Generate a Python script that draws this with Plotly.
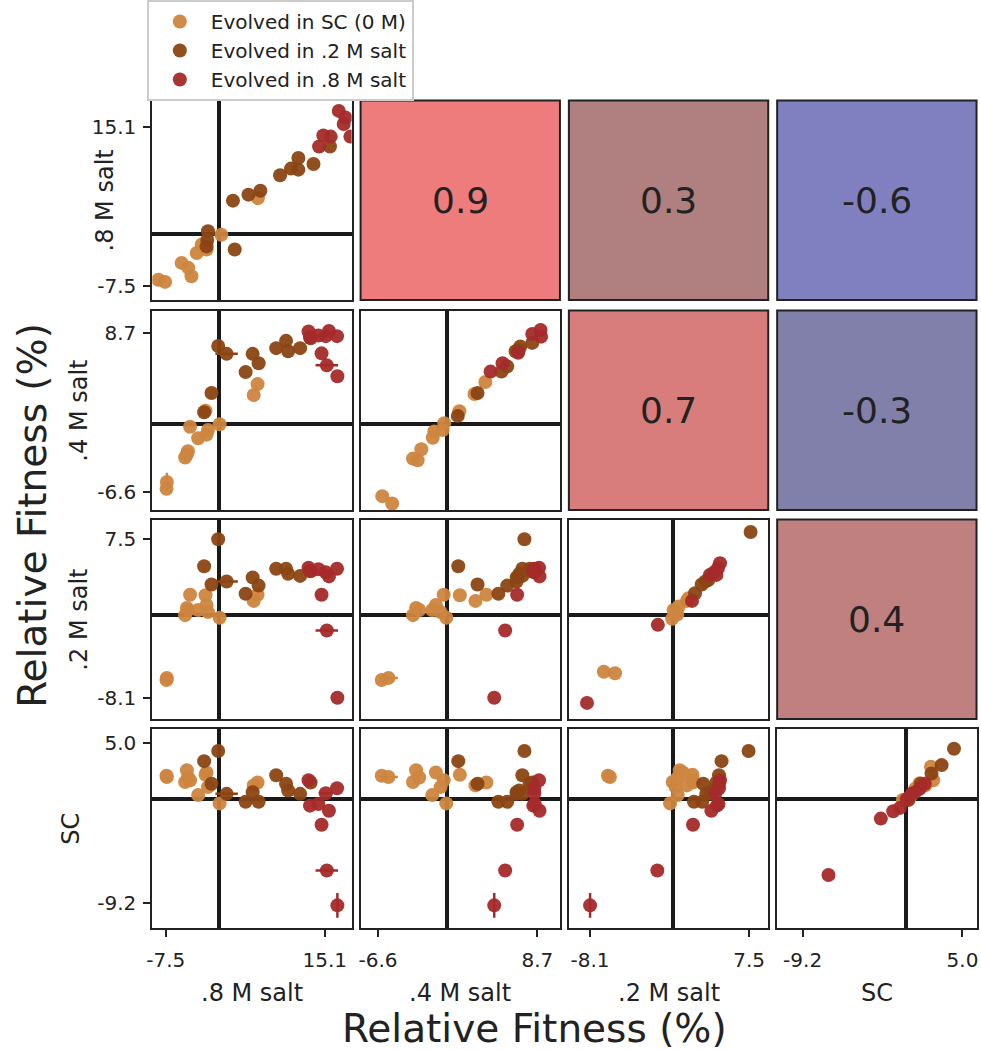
import plotly.graph_objects as go

# ---------------- data ----------------
GROUP_NAMES = ["Evolved in SC (0 M)", "Evolved in .2 M salt", "Evolved in .8 M salt"]
ENV_LABELS = [".8 M salt", ".4 M salt", ".2 M salt", "SC"]
ENV_TICKS = [[-7.5, 15.1], [-6.6, 8.7], [-8.1, 7.5], [-9.2, 5.0]]
ENV_TICKTEXT = [["-7.5", "15.1"], ["-6.6", "8.7"], ["-8.1", "7.5"], ["-9.2", "5.0"]]

# mean relative fitness (%) of each strain in each environment
# group: 0 = evolved in SC, 1 = evolved in .2 M, 2 = evolved in .8 M
strain_group = [0] * 13 + [1] * 12 + [2] * 9
fit_m8 = [-7.4, -7.35, -4.75, -4.5, -4.35, -4.05, -2.9, -1.7, -1.5, -1.85, 0.15, 5.55, 5.0,
          -2.05, -1.0, -0.05, 1.15, 3.85, 4.85, 5.7, 8.2, 9.6, 9.9, 11.6, 13.1,
          16.9, 15.4, 14.65, 12.8, 15.25, 16.85, 13.0, 14.2, 15.7]
fit_m4 = [-6.25, -5.6, -3.25, -2.95, -2.65, -0.3, -1.4, -1.05, -0.6, 1.25, -0.05, 3.8, 2.75,
          1.1, 2.95, 7.45, 6.7, 4.95, 6.7, 5.8, 7.25, 7.95, 6.95, 7.25, 8.2,
          4.55, 5.6, 6.75, 8.85, 8.4, 8.4, 8.3, 8.45, 8.9]
fit_m2 = [-6.35, -6.15, 0.0, 0.7, 0.5, 2.0, 0.5, 1.0, 0.3, 1.95, -0.25, 2.0, 1.4,
          4.8, 3.0, 7.45, 3.3, 2.1, 3.7, 2.9, 4.55, 4.55, 4.05, 3.85, 4.3,
          -8.1, -1.5, 2.0, 4.65, 4.2, 4.55, 4.35, 4.5, 3.8]
fit_sc = [2.05, 1.95, 1.5, 2.55, 1.9, 1.65, 0.35, 2.35, 1.05, 2.15, -0.4, 1.45, 1.2,
          3.35, 1.35, 4.25, 0.45, -0.25, 0.6, -0.25, 2.1, 1.35, 0.75, 0.45, 1.45,
          -9.45, -6.35, -2.3, 1.65, 0.5, 0.95, -0.6, -0.45, -1.05]
err_m8 = [0] * 16 + [1.6] + [0] * 7 + [0.9] + [0, 1.6, 0, 0, 1.0, 0, 0, 0, 0]
err_m4 = [0, 0.9] + [0] * 32
err_m2 = [0] * 34
err_sc = [0] * 25 + [1.1] + [0] * 8

# replicate panels on the diagonal (x = replicate 1, y = replicate 2)
diag_m8_g = [0] * 10 + [1] * 13 + [2] * 7
diag_m8_x = [-8.55, -7.6, -5.25, -4.3, -3.85, -3.1, -2.4, -1.7, 0.4, 5.6,
             -1.5, -1.7, -1.6, 2.3, 2.05, 4.25, 5.95, 8.75, 10.3, 11.35, 11.35, 13.5, 15.85,
             14.3, 14.9, 15.95, 17.1, 18.05, 17.8, 18.75]
diag_m8_y = [-6.55, -6.85, -4.15, -4.85, -6.05, -2.75, -1.55, -2.25, -0.15, 5.05,
             0.35, -1.8, -0.9, -2.25, 4.7, 5.55, 6.1, 8.3, 9.25, 9.1, 10.75, 9.9, 12.4,
             12.4, 13.95, 13.8, 17.45, 16.5, 15.6, 13.8]

diag_m4_g = [0] * 12 + [1] * 8 + [2] * 6
diag_m4_x = [-6.2, -5.25, -3.25, -2.8, -2.45, -1.35, -1.2, -0.4, -0.25, 1.2, 2.65, 3.7,
             1.05, 2.95, 5.25, 5.8, 6.6, 7.05, 8.2, 6.9,
             4.2, 5.35, 6.85, 8.2, 9.0, 9.05]
diag_m4_y = [-6.95, -7.65, -3.35, -3.5, -2.45, -1.35, -0.75, -0.6, 0.05, 1.2, 2.85, 4.0,
             0.75, 2.95, 5.0, 5.5, 6.95, 7.4, 7.75, 7.05,
             5.0, 5.8, 6.8, 8.6, 9.0, 8.35]

diag_m2_g = [0] * 9 + [1] * 6 + [2] * 7
diag_m2_x = [-6.75, -5.65, 0.1, 0.6, -0.05, 0.45, 1.4, 1.55, 0.3,
             7.65, 2.2, 2.85, 3.5, 4.0, 3.2,
             -8.4, -1.45, 1.9, 3.65, 4.3, 4.65, 4.45]
diag_m2_y = [-5.55, -5.7, 0.5, 0.85, -0.35, 0.05, 1.4, 1.65, 0.2,
             8.15, 2.15, 3.0, 3.45, 4.15, 3.3,
             -8.6, -0.95, 1.4, 3.95, 3.95, 5.1, 4.6]

diag_sc_g = [0] * 7 + [1] * 6 + [2] * 8
diag_sc_x = [2.2, 2.4, 1.7, 0.35, -0.3, 1.2, 0.8,
             4.25, 3.15, 2.25, 1.3, 0.8, 0.2,
             -6.9, -2.25, -1.15, -0.55, 0.05, 0.5, 1.2, 1.65]
diag_sc_y = [2.85, 1.65, 1.2, 0.15, -0.1, 1.4, 0.9,
             4.45, 3.0, 2.25, 1.35, 0.6, -0.1,
             -6.75, -1.75, -1.1, -0.8, 0.0, 0.45, 0.9, 1.35]

# correlations shown in the upper triangle: (row, col, value)
corr_cells = [(0, 1, "0.9"), (0, 2, "0.3"), (0, 3, "-0.6"),
              (1, 2, "0.7"), (1, 3, "-0.3"), (2, 3, "0.4")]

# ---------------- style ----------------
W, H = 981, 1050
COL_LEFT = [147.5, 357.5, 567.5, 777.5]
ROW_TOP = [100.5, 310.5, 519.5, 728.5]
PW, PH = 201, 199.5
AX_RANGE = [[-9.42, 18.93], [-8.28, 10.86], [-10.18, 9.38], [-11.46, 6.25]]
ROW_LABEL_X = [100, 74, 74, 66]
GROUP_COLORS = ["#cd853f", "#8b4513", "#a52a2a"]
CORR_COLORS = {"0.9": "#ee7c7c", "0.3": "#b07f7f", "-0.6": "#8080c0",
               "0.7": "#d97c7c", "-0.3": "#8080aa", "0.4": "#c08080"}
FONT = "DejaVu Sans"
INK = "#222222"

fits = [fit_m8, fit_m4, fit_m2, fit_sc]
errs = [err_m8, err_m4, err_m2, err_sc]
diags = [(diag_m8_x, diag_m8_y, diag_m8_g), (diag_m4_x, diag_m4_y, diag_m4_g),
         (diag_m2_x, diag_m2_y, diag_m2_g), (diag_sc_x, diag_sc_y, diag_sc_g)]


def xdom(c):
    return [COL_LEFT[c] / W, (COL_LEFT[c] + PW) / W]


def ydom(r):
    return [1 - (ROW_TOP[r] + PH) / H, 1 - ROW_TOP[r] / H]


def label(text, x, y, size, angle=0):
    return dict(text=text, xref="paper", yref="paper", x=x, y=y, xanchor="center",
                yanchor="middle", textangle=angle, showarrow=False,
                font=dict(size=size, color=INK, family=FONT))


fig = go.Figure()
layout = {}
k = 0
for r in range(4):
    for c in range(r + 1):
        k += 1
        xa = "x" if k == 1 else f"x{k}"
        ya = "y" if k == 1 else f"y{k}"
        for g in range(3):
            if r == c:
                dx, dy, dg = diags[r]
                idx = [i for i, gi in enumerate(dg) if gi == g]
                xs = [dx[i] for i in idx]
                ys = [dy[i] for i in idx]
                ex = [0] * len(idx)
                ey = [0] * len(idx)
            else:
                idx = [i for i, gi in enumerate(strain_group) if gi == g]
                xs = [fits[c][i] for i in idx]
                ys = [fits[r][i] for i in idx]
                ex = [errs[c][i] for i in idx]
                ey = [errs[r][i] for i in idx]
            fig.add_trace(go.Scatter(
                x=xs, y=ys, xaxis=xa, yaxis=ya, mode="markers",
                marker=dict(size=14, color=GROUP_COLORS[g], opacity=0.95, line=dict(width=0)),
                error_x=dict(type="data", array=ex, visible=True, width=0,
                             thickness=2.5, color=GROUP_COLORS[g]),
                error_y=dict(type="data", array=ey, visible=True, width=0,
                             thickness=2.5, color=GROUP_COLORS[g]),
                name=GROUP_NAMES[g], legendgroup=str(g),
                showlegend=(k == 1), hoverinfo="x+y",
            ))
        common = dict(showgrid=False, zeroline=True, zerolinecolor="#1a1a1a",
                      zerolinewidth=4, showline=True, mirror=True, linecolor=INK,
                      linewidth=2, ticklen=7, tickwidth=1.5, tickcolor=INK,
                      ticklabeloverflow="allow",
                      tickfont=dict(size=20, color=INK, family=FONT))
        xkey = "xaxis" if k == 1 else f"xaxis{k}"
        ykey = "yaxis" if k == 1 else f"yaxis{k}"
        layout[xkey] = dict(common, domain=xdom(c), range=AX_RANGE[c], anchor=ya,
                            tickvals=ENV_TICKS[c] if r == 3 else [],
                            ticktext=ENV_TICKTEXT[c] if r == 3 else [],
                            ticks="outside" if r == 3 else "",
                            showticklabels=(r == 3), ticklabelstandoff=6)
        layout[ykey] = dict(common, domain=ydom(r), range=AX_RANGE[r], anchor=xa,
                            tickvals=ENV_TICKS[r] if c == 0 else [],
                            ticktext=ENV_TICKTEXT[r] if c == 0 else [],
                            ticks="outside" if c == 0 else "",
                            showticklabels=(c == 0), ticklabelstandoff=3)

shapes = []
annotations = []
for r, c, val in corr_cells:
    x0, x1 = xdom(c)
    y0, y1 = ydom(r)
    shapes.append(dict(type="rect", xref="paper", yref="paper", x0=x0, x1=x1, y0=y0, y1=y1,
                       fillcolor=CORR_COLORS[val], line=dict(color=INK, width=2),
                       layer="below"))
    annotations.append(label(val, (x0 + x1) / 2, (y0 + y1) / 2, 36))

for i, lab in enumerate(ENV_LABELS):
    y0, y1 = ydom(i)
    annotations.append(label(lab, ROW_LABEL_X[i] / W, (y0 + y1) / 2, 24, angle=-90))
    x0, x1 = xdom(i)
    annotations.append(label(lab, (x0 + x1) / 2, 1 - 993 / H, 24))

annotations.append(label("Relative Fitness (%)", 26 / W, 1 - 515 / H, 39, angle=-90))
annotations.append(label("Relative Fitness (%)", 533 / W, 1 - 1028 / H, 39))

fig.update_layout(
    width=W, height=H,
    margin=dict(l=0, r=0, t=0, b=0),
    paper_bgcolor="white", plot_bgcolor="white",
    font=dict(family=FONT, color=INK),
    shapes=shapes, annotations=annotations,
    legend=dict(x=142 / W, y=1, xanchor="left", yanchor="top",
                bgcolor="white", bordercolor="#cccccc", borderwidth=2,
                font=dict(size=20, color=INK, family=FONT), itemwidth=52,
                tracegroupgap=0),
    **layout,
)

fig.write_html("out.html", config={"displayModeBar": False},
               post_script="document.body.style.margin='0';"
               "document.body.style.overflow='hidden';")
